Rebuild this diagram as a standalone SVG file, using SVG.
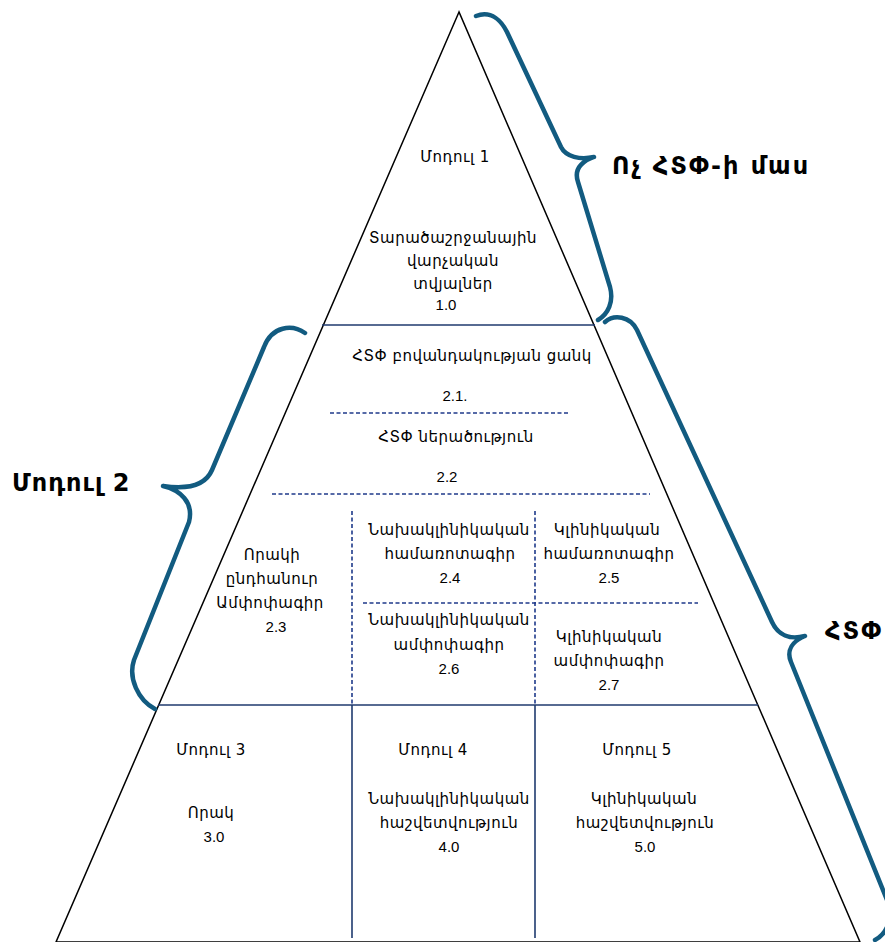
<svg xmlns="http://www.w3.org/2000/svg" width="885" height="942" viewBox="0 0 885 942">
<style>
.t{font-family:"DejaVu Sans","Noto Sans",sans-serif;font-size:15px;letter-spacing:0.5px;fill:#000;text-anchor:middle}
.n{font-family:"Liberation Sans",Arial,sans-serif;font-size:15px;fill:#000;text-anchor:middle}
.b{font-family:"DejaVu Sans","Noto Sans",sans-serif;font-size:24px;font-weight:bold;letter-spacing:2px;fill:#000}
.solid{stroke:#1f3a6e;stroke-width:1.6;fill:none}
.dash{stroke:#1f3a8a;stroke-width:1.6;stroke-dasharray:4 2.5;fill:none}
.brace{stroke:#125b80;stroke-width:4.5;fill:none;stroke-linecap:round;stroke-linejoin:round}
</style>
<rect width="885" height="942" fill="#fff"/>
<g id="connectors">
<polygon points="459,12 56,942 860,942" fill="none" stroke="#000" stroke-width="1.5"/>
<line class="solid" x1="322" y1="325" x2="595" y2="325"/>
<line class="dash" x1="330" y1="413" x2="570" y2="413"/>
<line class="dash" x1="272" y1="494" x2="650" y2="494"/>
<line class="dash" x1="352" y1="511" x2="352" y2="705"/>
<line class="dash" x1="535" y1="511" x2="535" y2="705"/>
<line class="dash" x1="363" y1="603" x2="698" y2="603"/>
<line class="solid" x1="158" y1="705" x2="758" y2="705"/>
<line class="solid" x1="352" y1="705" x2="352" y2="938"/>
<line class="solid" x1="535" y1="705" x2="535" y2="938"/>
</g>
<g id="braces">
<path class="brace" d="M476,16 C492,10 502,22 507,32 L561,147 C566,157 580,160 594,157 C580,162 574,170 578,182 L610,287 C614,302 608,314 598,320"/>
<path class="brace" d="M305,333 C292,324 272,326 264,347 L212,470 C206,484 190,490 163,486 C180,490 194,502 189,522 L134,660 C128,678 138,700 155,709"/>
<path class="brace" d="M605,322 C614,314 630,316 637,330 L772,622 C778,635 790,640 805,636 C793,641 786,650 791,662 L887,900 C895,920 885,935 875,940"/>
</g>
<g id="label-non-ctd"><text class="b" x="612" y="174">Ոչ ՀՏՓ-ի մաս</text></g>
<g id="label-module2"><text class="b" x="12" y="491" style="letter-spacing:1px">Մոդուլ  2</text></g>
<g id="label-ctd"><text class="b" x="825" y="639">ՀՏՓ</text></g>
<g id="module1">
<text class="t" x="455" y="162">Մոդուլ 1</text>
<text class="t" x="453" y="243">Տարածաշրջանային</text>
<text class="t" x="453" y="266">վարչական</text>
<text class="t" x="453" y="289">տվյալներ</text>
<text class="n" x="446" y="310">1.0</text>
</g>
<g id="node-2-1">
<text class="t" x="472" y="361">ՀՏՓ բովանդակության ցանկ</text>
<text class="n" x="455" y="401">2.1.</text>
</g>
<g id="node-2-2">
<text class="t" x="456" y="442">ՀՏՓ ներածություն</text>
<text class="n" x="447" y="482">2.2</text>
</g>
<g id="node-2-3">
<text class="t" x="272" y="560">Որակի</text>
<text class="t" x="272" y="584">ընդհանուր</text>
<text class="t" x="270" y="608">Ամփոփագիր</text>
<text class="n" x="276" y="632">2.3</text>
</g>
<g id="node-2-4">
<text class="t" x="449" y="535">Նախակլինիկական</text>
<text class="t" x="450" y="559">համառոտագիր</text>
<text class="n" x="450" y="583">2.4</text>
</g>
<g id="node-2-5">
<text class="t" x="607" y="535">Կլինիկական</text>
<text class="t" x="609" y="559">համառոտագիր</text>
<text class="n" x="609" y="583">2.5</text>
</g>
<g id="node-2-6">
<text class="t" x="449" y="625">Նախակլինիկական</text>
<text class="t" x="449" y="650">ամփոփագիր</text>
<text class="n" x="449" y="674">2.6</text>
</g>
<g id="node-2-7">
<text class="t" x="609" y="642">Կլինիկական</text>
<text class="t" x="609" y="666">ամփոփագիր</text>
<text class="n" x="609" y="690">2.7</text>
</g>
<g id="module3">
<text class="t" x="211" y="755">Մոդուլ 3</text>
<text class="t" x="211" y="818">Որակ</text>
<text class="n" x="214" y="842">3.0</text>
</g>
<g id="module4">
<text class="t" x="433" y="755">Մոդուլ 4</text>
<text class="t" x="449" y="804">Նախակլինիկական</text>
<text class="t" x="449" y="828">հաշվետվություն</text>
<text class="n" x="449" y="852">4.0</text>
</g>
<g id="module5">
<text class="t" x="637" y="755">Մոդուլ 5</text>
<text class="t" x="644" y="804">Կլինիկական</text>
<text class="t" x="645" y="828">հաշվետվություն</text>
<text class="n" x="645" y="852">5.0</text>
</g>
</svg>
